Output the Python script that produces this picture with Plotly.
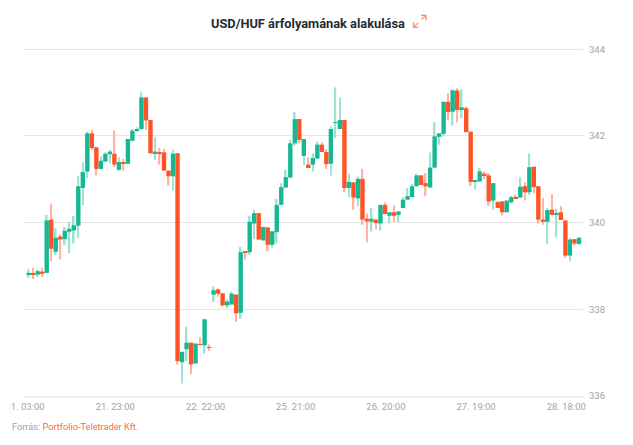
import plotly.graph_objects as go

# USD/HUF hourly candles
open_ = [
    338.80, 338.82, 338.80, 338.87, 338.84, 340.07, 339.33, 339.68, 339.62, 339.79,
    339.82, 339.93, 340.80, 341.18, 342.06, 341.74, 341.24, 341.41, 341.58, 341.59,
    341.22, 341.40, 341.36, 341.89, 342.12, 342.16, 342.89, 342.37, 341.60, 341.63,
    341.62, 341.20, 341.07, 341.60, 336.78, 337.08, 337.23, 336.75, 337.20, 337.17,
    337.12, 338.34, 338.46, 338.37, 338.09, 338.11, 338.34, 337.92, 339.34, 339.32,
    339.98, 340.22, 339.59, 339.89, 339.49, 339.78, 340.41, 340.81, 341.04, 341.83,
    342.39, 341.54, 341.34, 341.34, 341.48, 341.80, 341.63, 341.36, 342.30, 342.16,
    342.37, 340.80, 340.93, 340.56, 341.01, 340.09, 340.02, 340.07, 339.98, 340.41,
    340.16, 340.24, 340.18, 340.34, 340.53, 340.59, 340.84, 341.09, 340.91, 340.81,
    341.27, 341.98, 342.05, 342.79, 342.56, 343.05, 342.60, 342.64, 342.10, 340.94,
    340.95, 341.13, 341.09, 340.51, 340.48, 340.49, 340.24, 340.47, 340.59, 340.58,
    340.84, 340.70, 341.29, 340.84, 340.07, 340.02, 340.30, 340.18, 340.24, 340.05,
    339.24, 339.62, 339.51,
]
high = [
    338.92, 338.96, 338.92, 338.96, 340.18, 340.44, 339.87, 339.72, 339.90, 340.02,
    340.16, 341.08, 341.40, 342.10, 342.14, 341.74, 341.53, 341.62, 341.68, 342.12,
    341.51, 341.47, 341.93, 342.16, 342.20, 343.01, 342.89, 342.37, 341.97, 341.72,
    341.70, 341.20, 341.68, 341.60, 337.02, 337.60, 337.23, 337.21, 337.36, 337.77,
    337.19, 338.53, 338.48, 338.37, 338.24, 338.41, 338.34, 339.44, 339.34, 340.16,
    340.30, 340.22, 339.90, 339.89, 339.80, 340.55, 340.91, 341.22, 341.91, 342.55,
    342.39, 341.93, 341.51, 341.60, 341.87, 341.85, 341.70, 342.22, 343.12, 342.89,
    342.37, 341.13, 340.93, 341.06, 341.24, 340.21, 340.34, 340.07, 340.41, 340.47,
    340.24, 340.40, 340.26, 340.59, 340.80, 340.90, 341.13, 341.09, 341.14, 341.62,
    342.32, 342.06, 342.79, 342.99, 343.08, 343.10, 343.08, 342.68, 342.10, 340.97,
    341.26, 341.18, 341.14, 340.91, 340.48, 340.49, 340.51, 340.62, 340.64, 341.05,
    340.93, 341.60, 341.29, 340.84, 340.57, 340.34, 340.66, 340.32, 340.38, 340.05,
    339.65, 339.62, 339.67,
]
low = [
    338.73, 338.70, 338.75, 338.75, 338.84, 339.11, 339.26, 339.15, 339.49, 339.30,
    339.52, 339.65, 340.41, 341.03, 341.68, 341.09, 341.22, 341.41, 341.37, 341.28,
    341.20, 341.20, 341.36, 341.87, 342.10, 342.14, 342.14, 341.60, 341.45, 341.34,
    341.20, 340.86, 340.74, 336.73, 336.29, 336.81, 336.50, 336.75, 337.17, 336.98,
    337.04, 338.17, 338.29, 338.07, 338.02, 338.11, 337.71, 337.78, 339.15, 339.26,
    339.62, 339.61, 339.59, 339.34, 339.42, 339.52, 340.41, 340.81, 341.04, 341.78,
    341.83, 341.33, 341.26, 341.18, 341.48, 341.63, 341.24, 341.09, 341.95, 342.16,
    340.70, 340.59, 340.30, 340.38, 339.95, 339.55, 339.80, 339.85, 339.82, 340.20,
    339.98, 340.01, 340.01, 340.34, 340.53, 340.59, 340.84, 340.87, 340.61, 340.81,
    341.27, 341.80, 341.99, 342.37, 342.24, 342.31, 342.41, 342.09, 340.85, 340.76,
    340.95, 341.00, 340.39, 340.30, 340.34, 340.17, 340.24, 340.44, 340.56, 340.58,
    340.51, 340.64, 340.68, 339.98, 339.95, 339.51, 340.17, 339.66, 340.06, 339.19,
    339.11, 339.48, 339.49,
]
close = [
    338.84, 338.81, 338.88, 338.82, 340.05, 339.40, 339.65, 339.61, 339.81, 339.86,
    339.94, 340.84, 341.17, 342.06, 341.72, 341.24, 341.43, 341.59, 341.64, 341.34,
    341.40, 341.36, 341.93, 342.12, 342.15, 342.89, 342.36, 341.60, 341.64, 341.59,
    341.20, 341.07, 341.59, 336.81, 337.02, 337.23, 336.73, 337.21, 337.19, 337.77,
    337.11, 338.44, 338.36, 338.09, 338.18, 338.36, 337.91, 339.32, 339.30, 340.02,
    340.22, 339.61, 339.90, 339.49, 339.80, 340.41, 340.82, 341.05, 341.83, 342.39,
    341.91, 341.93, 341.26, 341.49, 341.80, 341.63, 341.35, 342.16, 342.31, 342.37,
    340.80, 340.94, 340.58, 341.01, 340.07, 340.03, 340.09, 339.99, 340.41, 340.20,
    340.24, 340.16, 340.26, 340.53, 340.61, 340.84, 341.09, 340.87, 340.84, 341.27,
    341.99, 342.06, 342.79, 342.55, 343.05, 342.60, 342.66, 342.09, 340.94, 340.97,
    341.18, 341.09, 340.49, 340.91, 340.34, 340.24, 340.51, 340.59, 340.56, 340.83,
    340.70, 341.28, 340.82, 340.07, 340.02, 340.29, 340.18, 340.21, 340.06, 339.24,
    339.61, 339.52, 339.65,
]
tick_labels = ["21. 03:00", "21. 23:00", "22. 22:00", "25. 21:00", "26. 20:00", "27. 19:00", "28. 18:00"]
tick_pos = [-0.8, 19.2, 39.2, 59.2, 79.2, 99.2, 119.2]
y_ticks = [336, 338, 340, 342, 344]

GREEN = "#14b892"
RED = "#ff5226"
GREEN_PALE = "#9fe2d2"
RED_PALE = "#ffb3a1"
GREY = "#a3a3a3"
ORANGE = "#ff8a5c"

# the page body has an 8px margin, so the figure is 8px in from the window edge
PAGE = 8
W, H = 633 - 2 * PAGE, 445 - 2 * PAGE
# top sits a hair above 344, otherwise plotly drops the gridline on the edge
L, R, T, B = 24, 583, 47.7, 396.5
x = list(range(len(open_)))
is_up = [c >= o for o, c in zip(open_, close)]


# window pixels to paper coords, for the icon and the label mask
def px(v):
    return (v - L) / (R - L)


def py(v):
    return (B - v) / (B - T)


def icon_line(x0, y0, x1, y1):
    return dict(type="line", xref="paper", yref="paper", x0=px(x0), y0=py(y0), x1=px(x1), y1=py(y1),
                line=dict(color=ORANGE, width=1.3))


fig = go.Figure()

# wicks: pale and thin, drawn as floating bars so they can differ from the body colour
fig.add_trace(go.Bar(
    x=x, base=low, y=[h - l for h, l in zip(high, low)], width=0.36,
    marker=dict(color=[GREEN_PALE if up else RED_PALE for up in is_up], line=dict(width=0)),
    hoverinfo="skip"
))

# solid bodies on top
fig.add_trace(go.Bar(
    x=x, base=[min(o, c) for o, c in zip(open_, close)],
    y=[abs(c - o) for o, c in zip(open_, close)], width=0.97,
    marker=dict(color=[GREEN if up else RED for up in is_up], line=dict(width=0)),
    hoverinfo="skip"
))

fig.update_layout(
    width=W, height=H,
    barmode="overlay",
    margin=dict(l=L - PAGE, r=W + PAGE - R, t=T - PAGE, b=H + PAGE - B, pad=0),
    paper_bgcolor="white", plot_bgcolor="white",
    font=dict(family="Roboto", size=9.5, color=GREY),
    showlegend=False,
    xaxis=dict(
        range=[-1.04, 122.9], showgrid=False, zeroline=False, automargin=False,
        tickmode="array", tickvals=tick_pos, ticktext=tick_labels, ticks="",
        ticklabeloverflow="allow", ticklabelstandoff=1,
        showline=True, linecolor="#eeeeee", linewidth=2, tickfont=dict(size=9.5, color=GREY)
    ),
    yaxis=dict(
        range=[336, 344.03], side="right", tickmode="array", tickvals=y_ticks, ticks="",
        ticklabelstandoff=5, ticklabeloverflow="allow",
        gridcolor="#e6e6e6", gridwidth=1, zeroline=False, showline=False, automargin=False,
        tickfont=dict(size=9.5, color=GREY)
    ),
    annotations=[
        dict(text="<b>USD/HUF árfolyamának alakulása</b>", xref="paper", yref="paper",
             x=px(308), y=py(23), xanchor="center", yanchor="middle", showarrow=False,
             font=dict(family="Roboto", size=12.8, color="#222b36")),
        dict(text="Forrás: <span style='color:#ff6a3d'>Portfolio-Teletrader Kft.</span>",
             xref="paper", yref="paper", x=px(9.5), y=py(427), xanchor="left", yanchor="middle",
             showarrow=False, font=dict(family="Roboto", size=9.2, color=GREY)),
    ],
    shapes=[
        icon_line(413.5, 27, 418, 22.5), icon_line(421.5, 19, 426, 15),
        icon_line(421, 15, 426, 15), icon_line(426, 15, 426, 20),
        icon_line(413.5, 22, 413.5, 27), icon_line(413.5, 27, 418.5, 27),
        # first tick label is cut off at the left edge in the original
        dict(type="rect", xref="paper", yref="paper", x0=px(PAGE), x1=px(10.5), y0=py(399), y1=py(413),
             fillcolor="white", line=dict(width=0), layer="above"),
    ],
)

fig.write_html("out.html")
